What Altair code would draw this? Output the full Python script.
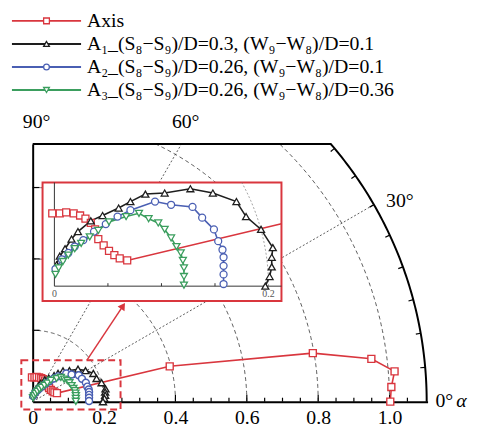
import numpy as np
import pandas as pd
import altair as alt

# ---------------- data ----------------
SERIES = ["Axis",
          "A₁_(S₈−S₉)/D=0.3, (W₉−W₈)/D=0.1",
          "A₂_(S₈−S₉)/D=0.26, (W₉−W₈)/D=0.1",
          "A₃_(S₈−S₉)/D=0.26, (W₉−W₈)/D=0.36"]
COLORS = ["#d9363e", "#1e1e1e", "#4a5fb3", "#3b9e5e"]
SHAPES = ["square", "triangle-up", "circle", "triangle-down"]

AXIS_X = [-0.002, 0.005, 0.011, 0.018, 0.024, 0.029, 0.034, 0.038, 0.041, 0.046,
          0.051, 0.056, 0.061, 0.068, 0.384, 0.785, 0.949, 1.014, 1.005, 1.002]
AXIS_Y = [0.068, 0.068, 0.069, 0.068, 0.066, 0.063, 0.059, 0.053, 0.044, 0.038,
          0.033, 0.029, 0.026, 0.024, 0.099, 0.136, 0.120, 0.085, 0.041, 0.000]

A1_X = [0.002, 0.005, 0.010, 0.016, 0.022, 0.034, 0.045, 0.060, 0.071, 0.085, 0.103,
        0.127, 0.148, 0.170, 0.179, 0.193, 0.204, 0.203, 0.203, 0.201, 0.197]
A1_Y = [0.020, 0.028, 0.035, 0.044, 0.051, 0.061, 0.066, 0.073, 0.079, 0.086, 0.087,
        0.091, 0.087, 0.079, 0.065, 0.053, 0.036, 0.027, 0.018, 0.009, 0.000]

A2_X = [0.001, 0.007, 0.013, 0.019, 0.027, 0.037, 0.048, 0.059, 0.071, 0.094,
        0.109, 0.129, 0.138, 0.149, 0.153, 0.157, 0.158, 0.158, 0.158, 0.158]
A2_Y = [0.016, 0.025, 0.031, 0.037, 0.043, 0.051, 0.058, 0.065, 0.071, 0.079,
        0.076, 0.074, 0.064, 0.053, 0.042, 0.034, 0.027, 0.019, 0.011, 0.002]

A3_X = [0.001, 0.004, 0.008, 0.013, 0.019, 0.025, 0.033, 0.041, 0.051, 0.067, 0.079,
        0.088, 0.097, 0.103, 0.109, 0.114, 0.118, 0.120, 0.121, 0.121, 0.121]
A3_Y = [0.011, 0.017, 0.023, 0.029, 0.035, 0.040, 0.046, 0.052, 0.060, 0.065, 0.068,
        0.063, 0.059, 0.053, 0.045, 0.037, 0.031, 0.024, 0.017, 0.009, 0.001]

X_TICK_LABELS = [0, 0.2, 0.4, 0.6, 0.8, 1.0]
GRID_RADII = [0.2, 0.4, 0.6, 0.8, 1.0]
RADIAL_ANGLES = [30, 60]
INSET_TICKS = [0.05, 0.10, 0.15]
INSET_LABELS = [0, 0.2]
INSET_GRID_R = 0.2

# ---------------- layout helpers ----------------
FONT = "'Liberation Serif', 'Times New Roman', 'DejaVu Serif', serif"
PX = 361.5                      # pixels per unit of the main plot
W, H = 400, 261
XMAX, YMAX = W / PX, H / PX
R_OUT = 1.104


def dx(px):
    return (px - 33.0) / PX


def dy(py):
    return (404.0 - py) / PX


xs = alt.Scale(domain=[0, XMAX], nice=False, zero=False)
ys = alt.Scale(domain=[0, YMAX], nice=False, zero=False)
xaxis = alt.Axis(values=X_TICK_LABELS,
                 labelExpr="datum.value == 0 ? '0' : format(datum.value, '.1f')",
                 ticks=False, grid=False, domainColor="black", domainWidth=2,
                 labelFont=FONT, labelFontSize=20, labelColor="black",
                 labelPadding=6, labelFlush=False, title=None)
yaxis = alt.Axis(ticks=False, labels=False, grid=False, domainColor="black",
                 domainWidth=2, title=None)
X = alt.X("x:Q", scale=xs, axis=xaxis)
Y = alt.Y("y:Q", scale=ys, axis=yaxis)
X2 = alt.X2("x2:Q")
Y2 = alt.Y2("y2:Q")
STROKE = alt.Stroke("series:N", scale=alt.Scale(domain=SERIES, range=COLORS), legend=None)
SHAPE = alt.Shape("series:N", scale=alt.Scale(domain=SERIES, range=SHAPES), legend=None)

# ---------------- data frames ----------------
rows = []
for s, xv, yv in zip(SERIES, [AXIS_X, A1_X, A2_X, A3_X], [AXIS_Y, A1_Y, A2_Y, A3_Y]):
    for i, (a, b) in enumerate(zip(xv, yv)):
        rows.append({"series": s, "order": i, "x": a, "y": b})
data = pd.DataFrame(rows)

# inset (3x magnified copy of the region near the origin)
MAG = 3.0
IX0, IY0 = dx(55), dy(287)
BX0, BX1, BY0, BY1 = dx(43), dx(285), dy(302), dy(182)
lx0, lx1 = (BX0 - IX0) / MAG, (BX1 - IX0) / MAG
ly0, ly1 = (BY0 - IY0) / MAG, (BY1 - IY0) / MAG


def inside(p):
    return lx0 <= p[0] <= lx1 and ly0 <= p[1] <= ly1


def cut(p, q):
    t = 1.0
    for lim, k in ((lx1, 0), (lx0, 0), (ly1, 1), (ly0, 1)):
        d = q[k] - p[k]
        if d != 0:
            tt = (lim - p[k]) / d
            if 0 < tt < t:
                t = tt
    return (p[0] + t * (q[0] - p[0]), p[1] + t * (q[1] - p[1]))


iline, ipts = [], []
for s, xv, yv in zip(SERIES, [AXIS_X, A1_X, A2_X, A3_X], [AXIS_Y, A1_Y, A2_Y, A3_Y]):
    pts = list(zip(xv, yv))
    k = 0
    for i, p in enumerate(pts):
        if inside(p):
            iline.append({"series": s, "order": k, "ix": p[0], "iy": p[1]}); k += 1
            ipts.append({"series": s, "ix": p[0], "iy": p[1]})
            if i + 1 < len(pts) and not inside(pts[i + 1]):
                c = cut(p, pts[i + 1])
                iline.append({"series": s, "order": k, "ix": c[0], "iy": c[1]}); k += 1
inset_line = pd.DataFrame(iline)
inset_pts = pd.DataFrame(ipts)
MAGX = f"{IX0} + {MAG} * datum.ix"
MAGY = f"{IY0} + {MAG} * datum.iy"

# grid arcs
ang = np.radians(np.linspace(0, 90, 181))
grid = pd.DataFrame([{"g": r, "o": i, "x": r * np.cos(a), "y": r * np.sin(a)}
                     for r in GRID_RADII for i, a in enumerate(ang)])
radial = pd.DataFrame([{"x": 0, "y": 0, "x2": R_OUT * np.cos(np.radians(a)),
                        "y2": R_OUT * np.sin(np.radians(a))} for a in RADIAL_ANGLES])

# outer frame: top edge + outer arc
th_top = np.arcsin(YMAX / R_OUT)
fr = [{"o": 0, "x": 0.0, "y": YMAX}]
for i, a in enumerate(np.linspace(th_top, 0, 80)):
    fr.append({"o": i + 1, "x": R_OUT * np.cos(a), "y": R_OUT * np.sin(a)})
frame = pd.DataFrame(fr)

# ticks (pointing inward)
xt = pd.DataFrame([{"x": 0.05 * k, "y": 0.0, "y2": (7 if k % 4 == 0 else 4) / PX}
                   for k in range(1, 22)])
yt = pd.DataFrame([{"x": 0.0, "x2": 7 / PX, "y": v} for v in [0.2, 0.4, 0.6]])
at = pd.DataFrame([{"x": (R_OUT - 5 / PX) * np.cos(np.radians(a)),
                    "y": (R_OUT - 5 / PX) * np.sin(np.radians(a)),
                    "x2": R_OUT * np.cos(np.radians(a)),
                    "y2": R_OUT * np.sin(np.radians(a))} for a in range(5, 41, 5)])

# ---------------- layers ----------------
base = alt.Chart(data)

l_grid = alt.Chart(grid).mark_line(clip=True, strokeDash=[4, 3], strokeWidth=0.8,
                                   color="#333").encode(X, Y, detail="g:N", order="o:Q")
l_radial = alt.Chart(radial).mark_rule(clip=True, strokeDash=[2, 2], strokeWidth=0.8,
                                       color="#333").encode(X, Y, X2, Y2)
l_frame = alt.Chart(frame).mark_line(color="black", strokeWidth=2).encode(X, Y, order="o:Q")
l_xt = alt.Chart(xt).mark_rule(color="black", strokeWidth=1.2).encode(X, Y, Y2)
l_yt = alt.Chart(yt).mark_rule(color="black", strokeWidth=1.2).encode(X, X2, Y)
l_at = alt.Chart(at).mark_rule(color="black", strokeWidth=1.2).encode(X, Y, X2, Y2)

l_lines = base.mark_line(strokeWidth=1.6).encode(X, Y, STROKE, detail="series:N",
                                                 order="order:Q")
l_pts = base.mark_point(filled=True, fill="white", fillOpacity=1, size=50,
                        strokeWidth=1.4).encode(X, Y, STROKE, SHAPE)

dash_box = pd.DataFrame([{"x": dx(21.5), "x2": dx(122), "y": dy(412), "y2": dy(362)}])
l_dash = alt.Chart(dash_box).mark_rect(filled=False, stroke="#d9363e", strokeWidth=2,
                                       strokeDash=[7, 4]).encode(X, X2, Y, Y2)
arrow = pd.DataFrame([{"x": dx(88), "y": dy(362), "x2": dx(124.5), "y2": dy(307)}])
l_arrow = alt.Chart(arrow).mark_rule(color="#d9363e", strokeWidth=1.5).encode(X, Y, X2, Y2)
head = pd.DataFrame([{"x": dx(124.5), "y": dy(307)}])
l_head = alt.Chart(head).mark_point(shape="triangle-up", filled=True, color="#d9363e",
                                    size=70, angle=33.5, opacity=1).encode(X, Y)

inset_box = pd.DataFrame([{"x": BX0, "x2": BX1, "y": BY0, "y2": BY1}])
l_ibox = alt.Chart(inset_box).mark_rect(fill="white", stroke="#d9363e",
                                        strokeWidth=2).encode(X, X2, Y, Y2)
ia = np.radians(np.linspace(0, np.degrees(np.arcsin(ly1 / INSET_GRID_R)), 60))
igrid = pd.DataFrame([{"o": i, "ix": INSET_GRID_R * np.cos(a), "iy": INSET_GRID_R * np.sin(a)}
                      for i, a in enumerate(ia)])
l_igrid = alt.Chart(igrid).transform_calculate(x=MAGX, y=MAGY).mark_line(
    strokeDash=[2, 2], strokeWidth=0.7, color="#777").encode(X, Y, order="o:Q")
iax = pd.DataFrame([{"x": IX0, "y": IY0, "x2": BX1, "y2": IY0},
                    {"x": IX0, "y": IY0, "x2": IX0, "y2": BY1}])
l_iax = alt.Chart(iax).mark_rule(color="#333", strokeWidth=1).encode(X, Y, X2, Y2)
itk = pd.DataFrame([{"ix": v} for v in INSET_TICKS])
l_itk = alt.Chart(itk).transform_calculate(
    x=MAGX, y=str(IY0), y2=str(IY0 + 3 / PX)).mark_rule(color="#333", strokeWidth=1).encode(X, Y, Y2)
ilab = pd.DataFrame([{"ix": v, "t": ("0" if v == 0 else f"{v:.1f}")} for v in INSET_LABELS])
l_ilab = alt.Chart(ilab).transform_calculate(x=MAGX, y=str(IY0)).mark_text(
    font=FONT, fontSize=10, color="#555", baseline="top", dy=3).encode(X, Y, text="t:N")
l_iline = alt.Chart(inset_line).transform_calculate(x=MAGX, y=MAGY).mark_line(
    strokeWidth=1.6).encode(X, Y, STROKE, detail="series:N", order="order:Q")
l_ipts = alt.Chart(inset_pts).transform_calculate(x=MAGX, y=MAGY).mark_point(
    filled=True, fill="white", fillOpacity=1, size=50, strokeWidth=1.3).encode(X, Y, STROKE, SHAPE)

# angle labels
lab_c = pd.DataFrame([{"x": dx(37), "y": dy(121), "t": "90°"},
                      {"x": dx(188), "y": dy(121), "t": "60°"},
                      {"x": dx(405), "y": dy(201), "t": "30°"}])
l_labc = alt.Chart(lab_c).mark_text(font=FONT, fontSize=20, color="black",
                                    align="center", baseline="middle").encode(X, Y, text="t:N")
lab_l = pd.DataFrame([{"x": dx(441), "y": dy(403), "t": "0°"}])
l_labl = alt.Chart(lab_l).mark_text(font=FONT, fontSize=20, color="black",
                                    align="left", baseline="middle").encode(X, Y, text="t:N")
lab_a = pd.DataFrame([{"x": dx(462), "y": dy(403), "t": "α"}])
l_laba = alt.Chart(lab_a).mark_text(font=FONT, fontSize=20, fontStyle="italic", color="black",
                                    align="left", baseline="middle").encode(X, Y, text="t:N")

# legend
leg = pd.DataFrame([{"series": s, "x": dx(12), "x2": dx(82), "xp": dx(47), "xt": dx(88),
                     "y": dy(18.3 + 23.33 * i)} for i, s in enumerate(SERIES)])
l_legl = alt.Chart(leg).mark_rule(strokeWidth=2).encode(X, X2, Y, STROKE)
l_legp = alt.Chart(leg).mark_point(filled=True, fill="white", fillOpacity=1, size=34,
                                   strokeWidth=1.3).encode(
    alt.X("xp:Q", scale=xs, axis=xaxis), Y, STROKE, SHAPE)
l_legt = alt.Chart(leg).mark_text(font=FONT, fontSize=20, color="black", align="left",
                                  baseline="middle").encode(
    alt.X("xt:Q", scale=xs, axis=xaxis), Y, text="series:N")

chart = alt.layer(
    l_grid, l_radial, l_frame, l_xt, l_yt, l_at,
    l_lines, l_pts, l_dash, l_arrow, l_head,
    l_ibox, l_igrid, l_iax, l_itk, l_ilab, l_iline, l_ipts,
    l_labc, l_labl, l_laba, l_legl, l_legp, l_legt
).properties(
    width=W, height=H,
    padding={"left": 25, "top": 135, "right": 45, "bottom": 30},
    autosize=alt.AutoSizeParams(type="none"),
    background="white"
).configure_view(stroke=None)

chart.save("out.html", embed_options={"renderer": "svg", "actions": False})
